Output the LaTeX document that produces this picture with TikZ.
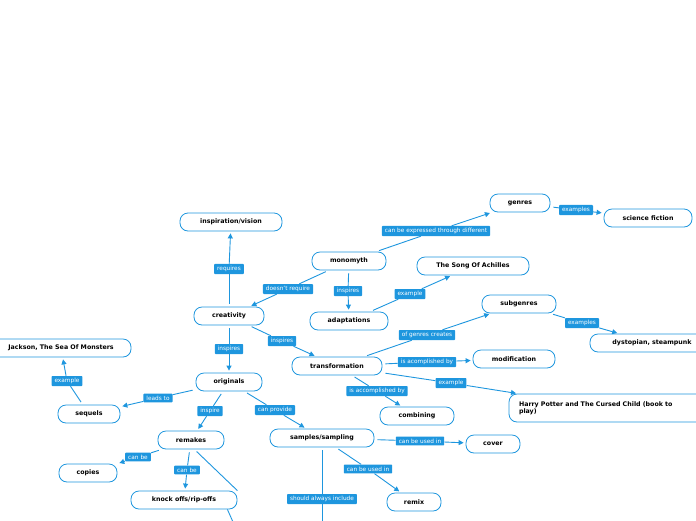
\documentclass[tikz,border=0pt]{standalone}
\usepackage{fontspec}
\setmainfont{DejaVu Sans}
\usetikzlibrary{arrows.meta}
\definecolor{mb}{RGB}{30,150,222}
\begin{document}
\begin{tikzpicture}[x=1pt,y=-1pt,
 topic/.style={draw=mb,line width=0.8pt,rounded corners=8pt,fill=white,minimum height=18pt,font=\fontsize{6.3}{7}\selectfont\bfseries,inner xsep=4pt},
 lab/.style={fill=mb,text=white,font=\fontsize{5.8}{6}\selectfont,inner xsep=3pt,inner ysep=2.2pt,rounded corners=0.8pt},
 ln/.style={draw=mb,line width=0.9pt},
 ar/.style={draw=mb,line width=0.9pt,-{Triangle[length=5pt,width=5pt]},shorten >=2pt}]
\useasboundingbox (0,0) rectangle (696,520);
\node[topic,minimum width=102pt] (insp) at (231,222) {inspiration/vision};
\node[topic,minimum width=74pt] (mono) at (349,261) {monomyth};
\node[topic,minimum width=60pt] (gen) at (520,203) {genres};
\node[topic,minimum width=88pt] (sf) at (648,218) {science fiction};
\node[topic,minimum width=112pt] (song) at (473,266) {The Song Of Achilles};
\node[topic,minimum width=70pt] (crea) at (229,316) {creativity};
\node[topic,minimum width=78pt] (adap) at (349,321) {adaptations};
\node[topic,minimum width=74pt] (sub) at (519,304) {subgenres};
\node[topic,minimum width=124pt] (dys) at (652,343) {dystopian, steampunk};
\node[topic,minimum width=90pt] (trans) at (337,366) {transformation};
\node[topic,minimum width=82pt] (mod) at (514,359) {modification};
\node[topic,minimum width=200pt,minimum height=28pt,align=left,text width=180pt] (hp) at (609,408) {Harry Potter and The Cursed Child (book to\\play)};
\node[topic,minimum width=74pt] (comb) at (417,416) {combining};
\node[topic,minimum width=66pt] (orig) at (229,382) {originals};
\node[topic,minimum width=62pt] (seq) at (89,414) {sequels};
\node[topic,minimum width=140pt] (jack) at (61,348) {Jackson, The Sea Of Monsters};
\node[topic,minimum width=66pt] (rem) at (191,440) {remakes};
\node[topic,minimum width=58pt] (cop) at (88,473) {copies};
\node[topic,minimum width=106pt] (ko) at (184,500) {knock offs/rip-offs};
\node[topic,minimum width=104pt] (samp) at (322,438) {samples/sampling};
\node[topic,minimum width=54pt] (cov) at (493,444) {cover};
\node[topic,minimum width=54pt] (remix) at (414,502) {remix};
\coordinate (e1) at (233,522);
\coordinate (e2) at (322,522);
\newcommand\lnk[4]{\node[lab] (#1) at #2 {#3};}
\node[lab] (l1) at (229,269) {requires};
\node[lab] (l2) at (288,289) {doesn't require};
\node[lab] (l3) at (348,291) {inspires};
\node[lab] (l4) at (436,231) {can be expressed through different};
\node[lab] (l5) at (576,210) {examples};
\node[lab] (l6) at (410,294) {example};
\node[lab] (l7) at (229,349) {inspires};
\node[lab] (l8) at (282,341) {inspires};
\node[lab] (l9) at (427,335) {of genres creates};
\node[lab] (l10) at (582,323) {examples};
\node[lab] (l11) at (427,362) {is acomplished by};
\node[lab] (l12) at (451,383) {example};
\node[lab] (l13) at (377,391) {is accomplished by};
\node[lab] (l14) at (158,398) {leads to};
\node[lab] (l15) at (67,381) {example};
\node[lab] (l16) at (210,411) {inspire};
\node[lab] (l17) at (275,410) {can provide};
\node[lab] (l18) at (138,457) {can be};
\node[lab] (l19) at (187,470) {can be};
\node[lab] (l20) at (420,441) {can be used in};
\node[lab] (l21) at (368,469) {can be used in};
\node[lab] (l22) at (322,499) {should always include};
\begin{scope}[on background layer/.style={}]
\foreach \a/\l/\b in {crea/l1/insp,mono/l2/crea,mono/l3/adap,mono/l4/gen,gen/l5/sf,adap/l6/song,crea/l7/orig,crea/l8/trans,trans/l9/sub,sub/l10/dys,trans/l11/mod,trans/l12/hp,trans/l13/comb,orig/l14/seq,seq/l15/jack,orig/l16/rem,orig/l17/samp,rem/l18/cop,rem/l19/ko,samp/l20/cov,samp/l21/remix}{
 \draw[ln,shorten <=3pt] (\a) -- (\l);
 \draw[ar] (\l) -- (\b);
}
\draw[ln,shorten <=3pt] (samp) -- (l22);
\draw[ln] (l22) -- (e2);
\draw[ln,shorten <=3pt] (rem.-70) -- (ko.north east) ;
\draw[ln] (ko.south east)++(-10,0) -- (e1);
\end{scope}
\end{tikzpicture}
\end{document}
